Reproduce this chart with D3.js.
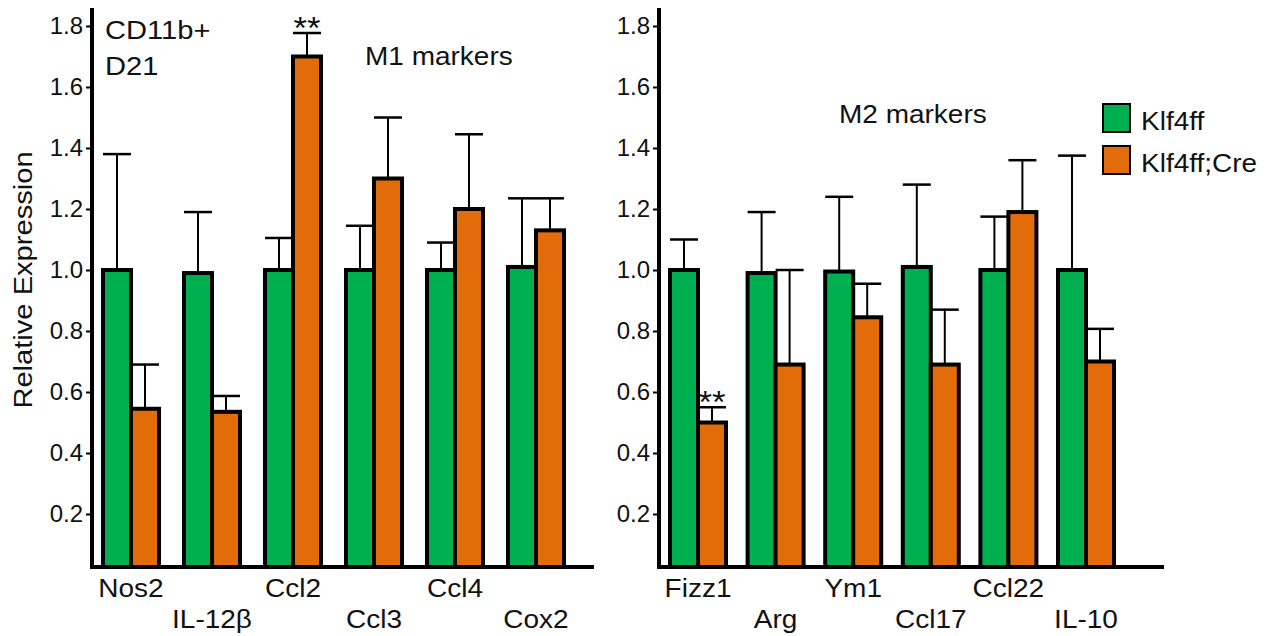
<!DOCTYPE html>
<html>
<head>
<meta charset="utf-8">
<script src="https://cdn.jsdelivr.net/npm/d3@7"></script>
<style>
  body { margin: 0; background: #fff; }
  svg text { font-family: "Liberation Sans", Arial, sans-serif; fill: #111; }
</style>
</head>
<body>
<script>
// M1 markers (left panel)
var m1Genes = ["Nos2", "IL-12\u03b2", "Ccl2", "Ccl3", "Ccl4", "Cox2"];
var m1Ctrl = [1.00, 0.99, 1.00, 1.00, 1.00, 1.01];
var m1CtrlErr = [0.38, 0.20, 0.105, 0.145, 0.09, 0.225];
var m1Cre = [0.545, 0.535, 1.70, 1.30, 1.20, 1.13];
var m1CreErr = [0.145, 0.052, 0.077, 0.20, 0.245, 0.105];
var m1Sig = ["", "", "**", "", "", ""];

// M2 markers (right panel)
var m2Genes = ["Fizz1", "Arg", "Ym1", "Ccl17", "Ccl22", "IL-10"];
var m2Ctrl = [1.00, 0.99, 0.995, 1.01, 1.00, 1.00];
var m2CtrlErr = [0.10, 0.20, 0.245, 0.27, 0.175, 0.375];
var m2Cre = [0.50, 0.69, 0.845, 0.69, 1.19, 0.70];
var m2CreErr = [0.05, 0.31, 0.11, 0.18, 0.17, 0.107];
var m2Sig = ["**", "", "", "", "", ""];

var yTicks = [0.2, 0.4, 0.6, 0.8, 1.0, 1.2, 1.4, 1.6, 1.8];
var seriesNames = ["Klf4ff", "Klf4ff;Cre"];
var colors = ["#00b050", "#e36c0a"];

var W = 1278, H = 636;
var baseY = 567;
var barW = 28;
var stretch = 1.12; // the figure's type is a bit wider than Arial

var svg = d3.select("body").append("svg")
  .attr("width", W)
  .attr("height", H);

var y = d3.scaleLinear().domain([0, 1.8]).range([575, 26]);

// text placed at x,y and stretched horizontally
function label(parent, x, yy, str, size, anchor, rot) {
  return parent.append("text")
    .attr("transform", "translate(" + x + "," + yy + ")" + (rot ? " rotate(" + rot + ")" : "") + " scale(" + stretch + ",1)")
    .attr("text-anchor", anchor || "start")
    .style("font-size", size + "px")
    .text(str);
}

function panel(opts) {
  var g = svg.append("g");
  var x = d3.scalePoint().domain(opts.genes).range(opts.range);

  // y axis ticks + labels
  var ax = g.append("g")
    .attr("transform", "translate(" + opts.axisX + ",0)")
    .call(d3.axisLeft(y).tickValues(yTicks).tickSize(6).tickPadding(3).tickFormat(d3.format(".1f")));
  ax.select(".domain").remove();
  ax.selectAll(".tick line").attr("stroke", "#000").attr("stroke-width", 2);
  ax.selectAll(".tick text")
    .style("font-size", "24px")
    .attr("fill", "#111");

  var bars = [];
  opts.genes.forEach(function(gname, i) {
    bars.push({gene: gname, s: 0, v: opts.ctrl[i], e: opts.ctrlErr[i], sig: "", x0: x(gname) - barW});
    bars.push({gene: gname, s: 1, v: opts.cre[i], e: opts.creErr[i], sig: opts.sig[i], x0: x(gname)});
  });

  // error bars (behind bars)
  var eb = g.selectAll("g.err").data(bars).enter().append("g").attr("class", "err");
  eb.append("line")
    .attr("x1", function(d) { return d.x0 + barW / 2; })
    .attr("x2", function(d) { return d.x0 + barW / 2; })
    .attr("y1", function(d) { return y(d.v); })
    .attr("y2", function(d) { return y(d.v + d.e); })
    .attr("stroke", "#000").attr("stroke-width", 2);
  eb.append("line")
    .attr("x1", function(d) { return d.x0 + barW / 2 - 14; })
    .attr("x2", function(d) { return d.x0 + barW / 2 + 14; })
    .attr("y1", function(d) { return y(d.v + d.e); })
    .attr("y2", function(d) { return y(d.v + d.e); })
    .attr("stroke", "#000").attr("stroke-width", 2.5);

  g.selectAll("rect.bar").data(bars).enter().append("rect")
    .attr("class", "bar")
    .attr("x", function(d) { return d.x0; })
    .attr("y", function(d) { return y(d.v); })
    .attr("width", barW)
    .attr("height", function(d) { return baseY - y(d.v); })
    .attr("fill", function(d) { return colors[d.s]; })
    .attr("stroke", "#000")
    .attr("stroke-width", 4);

  // significance stars
  bars.filter(function(d) { return d.sig; }).forEach(function(d) {
    label(g, d.x0 + barW / 2, y(d.v + d.e) + 6, d.sig, 31, "middle");
  });

  // axis lines
  g.append("line")
    .attr("x1", opts.axisX).attr("x2", opts.axisX)
    .attr("y1", 8).attr("y2", baseY + 2)
    .attr("stroke", "#000").attr("stroke-width", 4);
  g.append("line")
    .attr("x1", opts.axisX - 2).attr("x2", opts.axisEnd)
    .attr("y1", baseY).attr("y2", baseY)
    .attr("stroke", "#000").attr("stroke-width", 4);

  // category labels, staggered in two rows
  opts.genes.forEach(function(d, i) {
    label(g, x(d), i % 2 === 0 ? 597 : 628, d, 25, "middle");
  });
}

panel({genes: m1Genes, ctrl: m1Ctrl, ctrlErr: m1CtrlErr, cre: m1Cre, creErr: m1CreErr,
  sig: m1Sig, range: [131, 536], axisX: 92, axisEnd: 594});
panel({genes: m2Genes, ctrl: m2Ctrl, ctrlErr: m2CtrlErr, cre: m2Cre, creErr: m2CreErr,
  sig: m2Sig, range: [698, 1086], axisX: 659, axisEnd: 1164});

// y axis title
label(svg, 32, 280, "Relative Expression", 26, "middle", -90);

// panel annotations
label(svg, 105, 39, "CD11b+", 26);
label(svg, 105, 75, "D21", 26);
label(svg, 365, 65, "M1 markers", 25);
label(svg, 839, 123, "M2 markers", 25);

// legend
var leg = svg.selectAll("g.leg").data(seriesNames).enter().append("g")
  .attr("transform", function(d, i) { return "translate(1103," + (104 + i * 42) + ")"; });
leg.append("rect")
  .attr("width", 27).attr("height", 28)
  .attr("fill", function(d, i) { return colors[i]; })
  .attr("stroke", "#000").attr("stroke-width", 2);
leg.each(function(d) {
  label(d3.select(this), 38, 26, d, 25);
});
</script>
</body>
</html>
